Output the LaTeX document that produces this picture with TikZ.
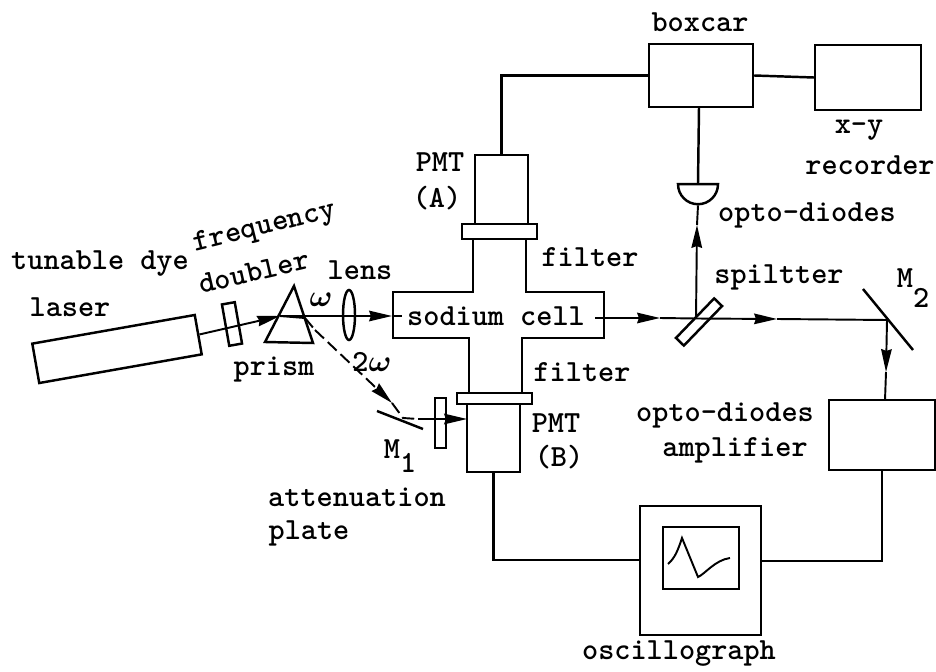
\documentclass[tikz,border=0pt]{standalone}
\usepackage{fontspec}
\usepackage{amsmath}
\usetikzlibrary{shapes.geometric, arrows.meta, positioning}

\begin{document}
\begin{tikzpicture}[
    x=0.02cm, y=-0.02cm,
    line width=1.4pt,
    box/.style={rectangle, draw, inner sep=0pt},
    txt/.style={inner sep=0pt, font=\fontsize{17.5}{20}\selectfont\ttfamily\bfseries},
    arrow/.style={-{Stealth[length=13pt, width=6pt, inset=1pt]}},
    beam/.style={line width=1.1pt},
    dashbeam/.style={line width=1.1pt, dash pattern=on 7pt off 3pt}
]
\useasboundingbox (0,0) rectangle (936,672);

% Source side
\node[box, minimum width=3.3cm, minimum height=0.8cm, rotate=10] (laser) at (117,349) {};
\node[box, minimum width=0.26cm, minimum height=0.84cm, rotate=10] (doubler) at (232,324) {};
\node[ellipse, draw, inner sep=0pt, minimum width=0.24cm, minimum height=1cm] (lens) at (349,315) {};
\coordinate (apex) at (294,286);
\coordinate (baseleft) at (265,342);
\coordinate (baseright) at (313,343);
\draw (apex) -- (baseleft) -- (baseright) -- cycle;

% Cell and photomultipliers
\node[box, minimum width=1.06cm, minimum height=1.38cm] (pmta) at (501.5,189.5) {};
\node[box, minimum width=1.5cm, minimum height=0.3cm] (filtera) at (499.5,231.5) {};
\node[box, minimum width=1.06cm, minimum height=1.36cm] (pmtb) at (493.5,438) {};
\node[box, minimum width=1.5cm, minimum height=0.22cm] (filterb) at (494.5,398.5) {};
\draw (473,239) -- (473,292) -- (393,292) -- (393,338) -- (469,338) -- (469,393);
\draw (526,239) -- (526,292) -- (604,292) -- (604,338) -- (522,338) -- (522,393);
\node[txt, inner sep=2pt] (cell) at (496,316) {sodium cell};

% Lower branch
\node[box, minimum width=0.22cm, minimum height=1cm] (attenuator) at (440.5,423) {};
\coordinate (mone) at (403,418);
\coordinate (moneleft) at (377,411);
\coordinate (moneright) at (423,429);
\draw (moneleft) -- (moneright);

% Right side
\node[box, minimum width=1.1cm, minimum height=0.22cm, rotate=46] (splitter) at (699,322) {};
\coordinate (mtwo) at (887,320);
\coordinate (mtwotop) at (863,289);
\coordinate (mtwobottom) at (913,350);
\draw (mtwotop) -- (mtwobottom);
\node[semicircle, draw, shape border rotate=180, inner sep=0pt, minimum width=0.8cm, anchor=chord center] (diode) at (698,183) {};

% Instruments
\node[box, minimum width=2.08cm, minimum height=1.26cm] (boxcar) at (701,75.5) {};
\node[box, minimum width=2.12cm, minimum height=1.3cm] (recorder) at (868,77.5) {};
\node[box, minimum width=2.12cm, minimum height=1.4cm] (amp) at (882,435) {};
\node[box, minimum width=2.42cm, minimum height=2.58cm] (scope) at (700.5,570.5) {};
\node[box, minimum width=1.52cm, minimum height=1.24cm] (screen) at (701,558) {};
\draw[beam] (668,564) .. controls (675,558) and (678,550) .. (682,538) -- (698,577) .. controls (705,574) and (715,560) .. (730,558);

% Beams
\coordinate (prismin) at (280,316);
\coordinate (prismout) at (305,318);
\coordinate (prismexit) at (315,330);
\coordinate (celltip) at (392,316);
\coordinate (cellout) at (595,318);
\coordinate (gaptip) at (660,318);
\coordinate (splitcentre) at (696,318.5);
\coordinate (longtip) at (777,319);
\coordinate (downtip) at (886,372);
\coordinate (ampin) at (885,400);
\coordinate (uptip) at (697,225);
\coordinate (dashtip) at (392,403);
\coordinate (moneout) at (418,419);
\coordinate (pmtin) at (467,419);
\coordinate (boxcarout) at (699,107);
\draw[beam, arrow] (laser.east) -- (prismin);
\draw[beam] (prismin) -- (prismout);
\draw[dashbeam] (prismout) -- (prismexit);
\draw[beam, arrow] (prismin) -- (celltip);
\draw[beam] (celltip) -- (cell.west);
\draw[beam, arrow] (cellout) -- (gaptip);
\draw[beam] (gaptip) -- (splitcentre);
\draw[beam, arrow] (splitcentre) -- (longtip);
\draw[beam] (longtip) -- (mtwo);
\draw[beam, arrow] (mtwo) -- (downtip);
\draw[beam] (downtip) -- (ampin);
\draw[beam, arrow] (splitcentre) -- (uptip);
\draw[beam] (uptip) -- (diode.apex);
\draw[dashbeam, arrow] (prismexit) -- (dashtip);
\draw[dashbeam] (dashtip) -- (mone) -- (moneout);
\draw[beam, arrow] (moneout) -- (pmtin);

% Signal lines
\coordinate (scopeleft) at (640,560);
\coordinate (scoperight) at (761,561);
\draw (boxcar.west) -| (pmta.north);
\draw (boxcar.east) -- (recorder.west);
\draw (boxcarout) -- (diode.chord center);
\draw (pmtb.south) |- (scopeleft);
\draw (amp.south) |- (scoperight);

% Labels
\node[txt] (lbllaser) at (70,307) {laser};
\node[txt] (lbltunable) at (100,264) {tunable dye};
\node[txt, rotate=14] (lblfrequency) at (265,228) {frequency};
\node[txt, rotate=13] (lbldoubler) at (254,272) {doubler};
\node[txt] (lbllens) at (360,270) {lens};
\node[txt] (lblprism) at (274,370) {prism};
\node[txt] (lblomega) at (321,300) {$\boldsymbol{\omega}$};
\node[txt] (lbltwoomega) at (372,362) {2$\boldsymbol{\omega}$};
\node[txt] (lblmone) at (400,456) {M\raisebox{-0.45em}{1}};
\node[txt] (lblatt) at (357,497) {attenuation};
\node[txt] (lblplate) at (309,533) {plate};
\node[txt] (lblpmta) at (440,162) {PMT};
\node[txt] (lbla) at (437,198) {(A)};
\node[txt] (lblfiltera) at (590,257) {filter};
\node[txt] (lblfilterb) at (582,372) {filter};
\node[txt] (lblpmtb) at (556,423) {PMT};
\node[txt] (lblb) at (559,457) {(B)};
\node[txt] (lblboxcar) at (700,22) {boxcar};
\node[txt] (lblxy) at (859,130) {x-y};
\node[txt] (lblrecorder) at (870,165) {recorder};
\node[txt] (lbldiodes) at (807,215) {opto-diodes};
\node[txt] (lblsplit) at (779,277) {spiltter};
\node[txt] (lblmtwo) at (913,288) {M\raisebox{-0.65em}{2}};
\node[txt] (lblamptop) at (725,415) {opto-diodes};
\node[txt] (lblamp) at (735,450) {amplifier};
\node[txt] (lblscope) at (679,654) {oscillograph};

\end{tikzpicture}
\end{document}
